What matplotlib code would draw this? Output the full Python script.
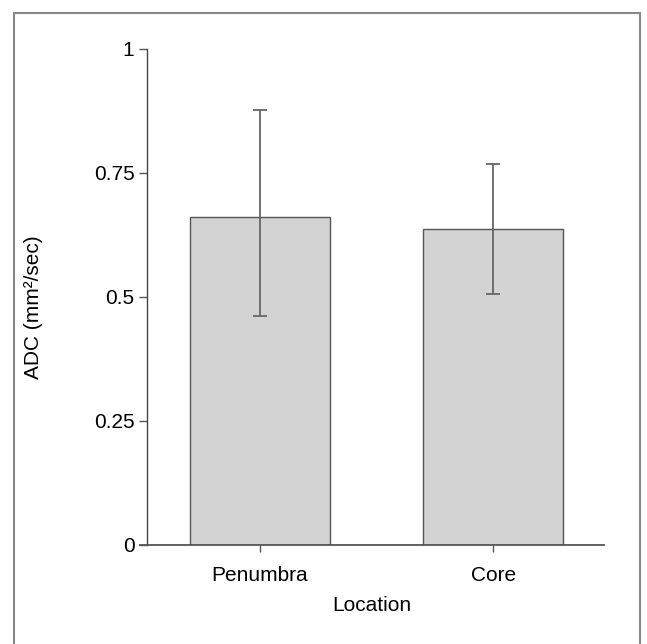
import matplotlib
matplotlib.use("Agg")
import matplotlib.pyplot as plt
from matplotlib.patches import Rectangle

plt.rcParams['font.family'] = ['Liberation Sans', 'DejaVu Sans']

locations = ["Penumbra", "Core"]
adc_mean = [0.661, 0.637]
err_low = [0.199, 0.131]
err_high = [0.216, 0.131]

fig = plt.figure(figsize=(6.47, 6.44), dpi=100)
ax = fig.add_axes([140/647, 1 - 545/644, (604 - 140)/647, (545 - 49)/644])

x = [0, 1]
ax.bar(x, adc_mean, width=0.6, color="#d3d3d3", edgecolor="#555555", linewidth=1.0)
ax.errorbar(x, adc_mean, yerr=[err_low, err_high], fmt="none",
            ecolor="#666666", elinewidth=1.3, capsize=5, capthick=1.3)

ax.set_xlim(-0.515, 1.476)
ax.set_ylim(0, 1)
ax.set_yticks([0, 0.25, 0.5, 0.75, 1])
ax.set_yticklabels(["0", "0.25", "0.5", "0.75", "1"])
ax.set_xticks(x)
ax.set_xticklabels(locations)

for s in ["top", "right"]:
    ax.spines[s].set_visible(False)
ax.spines["left"].set_position(("data", -0.485))
ax.spines["left"].set_color("#444444")
ax.spines["bottom"].set_color("#555555")
ax.spines["left"].set_linewidth(1.0)
ax.spines["bottom"].set_linewidth(1.3)

ax.tick_params(axis="y", length=6, width=1, color="#555555", labelsize=15, pad=3)
ax.tick_params(axis="x", length=5, width=1, color="#555555", labelsize=15, pad=10)

ax.set_xlabel("Location", fontsize=15)
ax.set_ylabel("ADC (mm²/sec)", fontsize=15)
ax.xaxis.set_label_coords((372 - 140)/464, -(596 - 545)/496)
ax.yaxis.set_label_coords(-(140 - 43)/464, 0.48)

# outer frame around the figure (cut off at the bottom)
fig.patches.append(Rectangle((14/647, -0.05), (640 - 14)/647, 1.05 - 13/644,
                             transform=fig.transFigure, fill=False,
                             edgecolor="#888888", linewidth=1.5))

fig.savefig("out.png", dpi=100)
